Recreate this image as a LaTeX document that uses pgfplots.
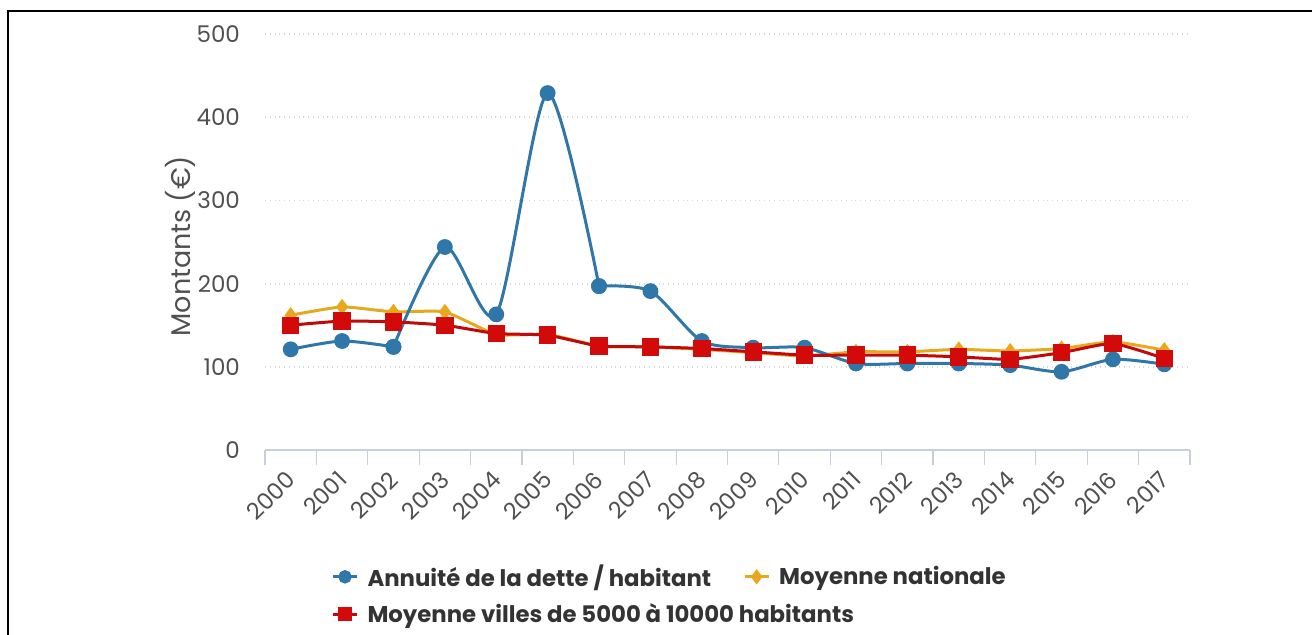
\documentclass[border=0pt]{standalone}
\usepackage{pgfplots}
\pgfplotsset{compat=1.18}
\usepackage{fontspec}
\setmainfont{Poppins}

\definecolor{annuite}{HTML}{2F77A8}
\definecolor{nationale}{HTML}{E8A81E}
\definecolor{villes}{HTML}{D20A0A}
\definecolor{axisgray}{HTML}{C9CEDB}
\definecolor{gridgray}{HTML}{D9D9D9}
\definecolor{ticktext}{HTML}{505050}
\definecolor{legtext}{HTML}{333333}

% Annual amounts per inhabitant (EUR), 2000 = 0 ... 2017 = 17
\pgfplotstableread{
x annuite nationale villes
0  121 162 150
1  131 172 155
2  124 166 154
3  244 166 150
4  163 139 140
5  429 139 138
6  197 125 125
7  191 124 124
8  131 121 122
9  123 117 118
10 123 113 114
11 104 118 114
12 104 118 114
13 104 121 112
14 102 119 109
15  94 122 117
16 109 130 128
17 103 120 110
}\montants

\begin{document}
\begin{tikzpicture}
\path[use as bounding box] (0,0) rectangle (656pt,317pt);
% outer frame (left and top edges)
\draw[line width=1.3pt, line cap=rect] (4pt,0pt) -- (4pt,311.5pt) -- (656pt,311.5pt);

\begin{axis}[
  at={(132.5pt,92pt)}, anchor=south west,
  scale only axis, width=462.5pt, height=208pt,
  xmin=-0.5, xmax=17.5, ymin=0, ymax=500,
  axis x line*=bottom, axis y line*=left,
  x axis line style={draw=axisgray, line width=0.8pt},
  y axis line style={draw=none},
  ytick={0,100,...,500},
  major tick length=0pt,
  ymajorgrids,
  grid style={gridgray, dotted, line width=0.9pt},
  xtick={0,...,17},
  xticklabels={2000,2001,2002,2003,2004,2005,2006,2007,2008,2009,2010,2011,2012,2013,2014,2015,2016,2017},
  minor xtick={-0.5,0.5,...,17.5},
  minor tick length=7.5pt,
  tick align=outside,
  minor tick style={axisgray, line width=0.6pt},
  /pgf/number format/assume math mode=true,
  ticklabel style={font=\fontsize{11.5}{13}\selectfont, text=ticktext},
  yticklabel style={xshift=-9pt},
  xticklabel style={xshift=1pt, yshift=-12pt, rotate=45, anchor=east, inner sep=1pt},
  ylabel={Montants (€)},
  ylabel style={font=\fontsize{13.5}{15}\selectfont, text=ticktext, at={(axis description cs:-0.091,0.49)}, anchor=center},
  legend columns=2,
  legend cell align=left,
  legend style={draw=none, fill=none, at={(axis description cs:0.065,-0.255)}, anchor=north west,
    font=\bfseries\fontsize{11.4}{13}\selectfont, text=legtext,
    row sep=3pt,
    /tikz/every odd column/.append style={column sep=2.5pt},
    /tikz/every even column/.append style={column sep=14pt}},
  legend image code/.code={\draw[mark repeat=2,mark phase=2,#1,mark size=2.6pt] plot coordinates {(0pt,0pt) (6pt,0pt) (12pt,0pt)};},
  blue/.style={annuite, line width=1.5pt, smooth, tension=0.45, mark=*, mark size=3.2pt, mark options={fill=annuite, draw=annuite}},
]
% debt annuity: drawn in three smooth stretches so the curve does not
% swing past its neighbours where the slope changes abruptly
\addplot[blue] table[x=x, y=annuite, restrict x to domain=0:2] {\montants};
\addlegendentry{Annuité de la dette / habitant}
\addplot[nationale, line width=1.5pt, smooth, tension=0.3, mark=diamond*, mark size=2.8pt, mark options={fill=nationale, draw=nationale}]
  table[x=x, y=nationale] {\montants};
\addlegendentry{Moyenne nationale}
\addplot[blue, forget plot] table[x=x, y=annuite, restrict x to domain=2:6] {\montants};
\addplot[blue, forget plot] table[x=x, y=annuite, restrict x to domain=6:17] {\montants};
\addplot[villes!92!black, line width=1.5pt, smooth, tension=0.3, mark=square*, mark size=3.6pt, mark options={fill=villes, draw=villes}]
  table[x=x, y=villes] {\montants};
\addlegendentry{\makebox[0pt][l]{Moyenne villes de 5000 à 10000 habitants}}
\end{axis}
\end{tikzpicture}
\end{document}
